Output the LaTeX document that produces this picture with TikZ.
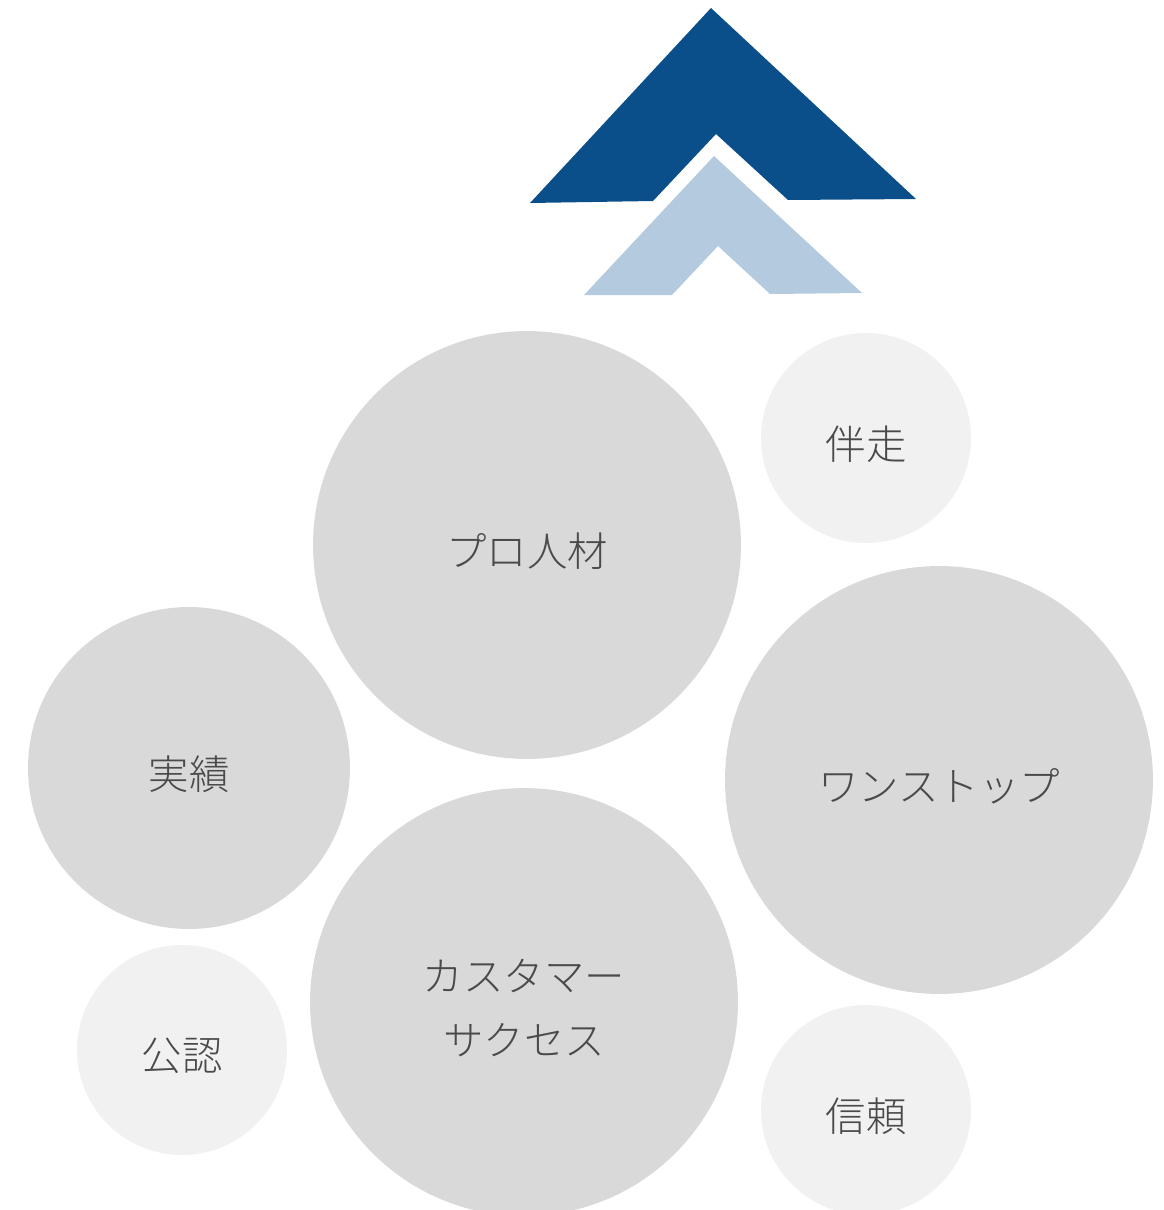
\documentclass[tikz,border=0pt]{standalone}
\usepackage{fontspec}
\newfontfamily\jpfont{Noto Sans CJK JP Light}
\usepackage{xcolor}
\usetikzlibrary{positioning}
\definecolor{chevdark}{HTML}{0B4F8A}
\definecolor{chevlight}{HTML}{B4CADF}
\definecolor{bubblebig}{HTML}{D9D9D9}
\definecolor{bubblesmall}{HTML}{F1F1F1}
\definecolor{bubbletext}{HTML}{4A4A4A}

\begin{document}
\begin{tikzpicture}[
  x=0.02cm, y=-0.02cm,
  bubble/.style={circle, inner sep=0pt},
  bubblelabel/.style={align=center, text=bubbletext, yshift=-0.12cm,
               font=\jpfont\fontsize{23}{36}\selectfont},
  bigbubble/.style={bubble, fill=bubblebig, minimum size=8.56cm},
  smallbubble/.style={bubble, fill=bubblesmall, minimum size=4.2cm},
]
  \useasboundingbox (0,0) rectangle (1163,1210);

  % chevrons
  \fill[chevdark] (711,8) -- (916,199) -- (788,200) -- (716,134) -- (653,201) -- (530,203) -- cycle;
  \fill[chevlight] (714,156) -- (862,293) -- (770,294) -- (718,246) -- (672,295) -- (584,295) -- cycle;

  % bubbles
  \node[bigbubble, label={[bubblelabel]center:プロ人材}] (pro) at (527,545) {};
  \node[smallbubble, label={[bubblelabel]center:伴走}] (bansou) at (866,438) {};
  \node[bigbubble, label={[bubblelabel]center:ワンストップ}] (onestop) at (939,780) {};
  \node[bubble, fill=bubblebig, minimum size=6.44cm,
        label={[bubblelabel]center:実績}] (jisseki) at (189,768) {};
  \node[bigbubble, label={[bubblelabel]center:カスタマー\\サクセス}] (success) at (524,1002) {};
  \node[smallbubble, label={[bubblelabel]center:公認}] (kounin) at (182,1050) {};
  \node[smallbubble, label={[bubblelabel]center:信頼}] (shinrai) at (866,1110) {};
\end{tikzpicture}
\end{document}
